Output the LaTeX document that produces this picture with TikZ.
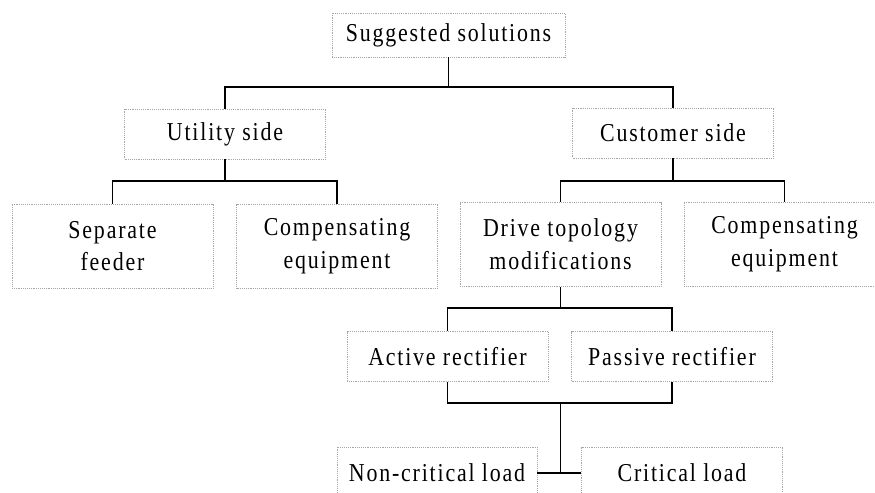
\documentclass[tikz,border=0pt]{standalone}
\usepackage{fontspec}
\setmainfont[LetterSpace=7,FakeStretch=0.85]{Liberation Serif}
\usepackage{tikz}
\usetikzlibrary{positioning,calc}
\tikzset{
  solbox/.style={draw=gray!70, densely dotted, line width=0.6pt, align=center,
    font=\fontsize{22}{28}\selectfont, minimum width=201*0.3mm, minimum height=50*0.3mm, inner sep=0pt},
  tallbox/.style={solbox, minimum height=84*0.3mm},
  link/.style={line width=1.5pt, black}
}
\begin{document}
\begin{tikzpicture}[x=0.3mm,y=-0.3mm]
        \useasboundingbox (0,0) rectangle (875,493);
        \clip (0,0) rectangle (875,493);
        % Top level
        \node[solbox, minimum width=233*0.3mm, minimum height=44*0.3mm] (sug) at (448.5,35) {Suggested solutions};
        \node[solbox] (util) at (225,134) {Utility side};
        \node[solbox] (cust) at (673,133) {Customer side};
        % Second level
        \node[tallbox] (sep) at (112.5,246) {Separate\\feeder};
        \node[tallbox] (compU) at (337,246) {Compensating\\equipment};
        \node[tallbox] (drive) at (560.5,244.5) {Drive topology\\modifications};
        \node[tallbox] (compC) at (784.5,244) {Compensating\\equipment};
        % Rectifiers and loads
        \node[solbox] (act) at (447.5,356.5) {Active rectifier};
        \node[solbox] (pas) at (672,356.5) {Passive rectifier};
        \node[solbox, minimum width=200*0.3mm, minimum height=52*0.3mm] (noncrit) at (437,473) {Non-critical load};
        \node[solbox, minimum height=52*0.3mm] (crit) at (682,473) {Critical load};
        % Buses
        \coordinate (busTop) at (sug.south |- 0,87);
        \coordinate (busUtil) at (util.south |- 0,181);
        \coordinate (busCust) at (cust.south |- 0,181);
        \coordinate (busDrive) at (drive.south |- 0,308);
        \coordinate (busRect) at (drive.south |- 0,403);
        \coordinate (loadJoin) at (busRect |- noncrit.east);
        \draw[link] (sug.south) -- (busTop);
        \draw[link] (util.north) |- (busTop) -| (cust.north);
        \draw[link] (util.south) -- (busUtil);
        \draw[link] (sep.north) |- (busUtil) -| (compU.north);
        \draw[link] (cust.south) -- (busCust);
        \draw[link] (drive.north) |- (busCust) -| (compC.north);
        \draw[link] (drive.south) -- (busDrive);
        \draw[link] (act.north) |- (busDrive) -| (pas.north);
        \draw[link] (act.south) |- (busRect) -| (pas.south);
        \draw[link] (busRect) -- (loadJoin);
        \draw[link] (noncrit.east) -- (crit.west);
\end{tikzpicture}
\end{document}
